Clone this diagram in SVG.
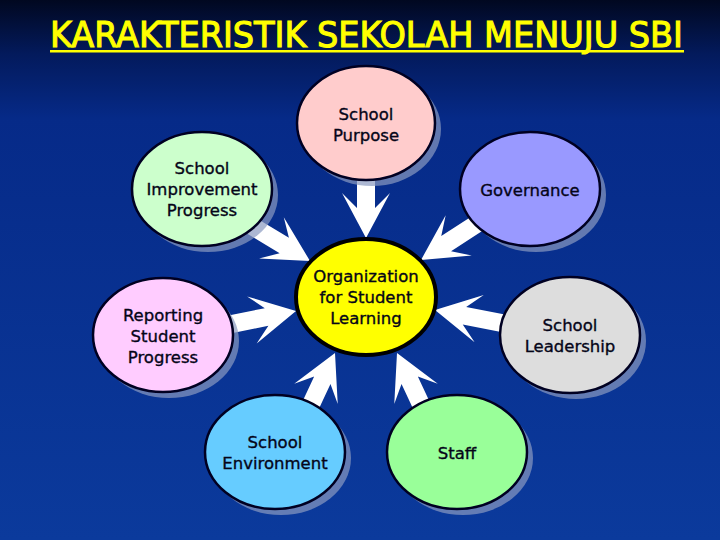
<svg xmlns="http://www.w3.org/2000/svg" width="720" height="540" viewBox="0 0 720 540">
  <defs>
    <linearGradient id="bg" x1="0" y1="0" x2="0" y2="1">
      <stop offset="0" stop-color="#010820"/>
      <stop offset="0.1" stop-color="#031a5c"/>
      <stop offset="0.22" stop-color="#062a88"/>
      <stop offset="1" stop-color="#0b3a9c"/>
    </linearGradient>
    <path id="arrow" d="M0,0 L-45,-24 L-30,-9 L-90,-9 L-90,9 L-30,9 L-45,24 Z"/>
  </defs>
  <style>
    .arr { fill: #ffffff; }
    .shadow { fill: #8a9ac0; opacity: 0.7; }
    .node { stroke: #000022; stroke-width: 2.5; }
    .center { stroke: #000000; stroke-width: 4; }
    .lbl { font-family: "DejaVu Sans", "Liberation Sans", sans-serif; font-size: 16.5px; fill: #050518; stroke: #050518; stroke-width: 0.35; text-anchor: middle; }
    .title { font-family: "DejaVu Sans Condensed", "DejaVu Sans", sans-serif; font-size: 35px; fill: #ffff00; stroke: #ffff00; stroke-width: 1; }
  </style>

  <rect x="0" y="0" width="720" height="540" fill="url(#bg)"/>

  <g id="title">
    <text class="title" x="50" y="47" textLength="633" lengthAdjust="spacingAndGlyphs">KARAKTERISTIK SEKOLAH MENUJU SBI</text>
    <rect x="50" y="50" width="634" height="2.5" fill="#ffff00"/>
  </g>

  <g id="connectors">
    <use href="#arrow" class="arr" transform="translate(366,238) rotate(90)"/>
    <use href="#arrow" class="arr" transform="translate(310,261) rotate(31)"/>
    <use href="#arrow" class="arr" transform="translate(421,260) rotate(147)"/>
    <use href="#arrow" class="arr" transform="translate(435,310) rotate(191)"/>
    <use href="#arrow" class="arr" transform="translate(296,311) rotate(-11.5)"/>
    <use href="#arrow" class="arr" transform="translate(335,353) rotate(-65)"/>
    <use href="#arrow" class="arr" transform="translate(397,353) rotate(-115)"/>
  </g>

  <g id="school-purpose">
    <ellipse class="shadow" cx="372" cy="129" rx="69" ry="57"/>
    <ellipse class="node" cx="366" cy="123" rx="69" ry="57" fill="#ffcccc"/>
    <text class="lbl" x="366" y="120">School</text>
    <text class="lbl" x="366" y="141">Purpose</text>
  </g>

  <g id="school-improvement">
    <ellipse class="shadow" cx="208" cy="195" rx="70" ry="57"/>
    <ellipse class="node" cx="202" cy="189" rx="70" ry="57" fill="#ccffcc"/>
    <text class="lbl" x="202" y="174">School</text>
    <text class="lbl" x="202" y="195">Improvement</text>
    <text class="lbl" x="202" y="216">Progress</text>
  </g>

  <g id="governance">
    <ellipse class="shadow" cx="536" cy="195" rx="70" ry="57"/>
    <ellipse class="node" cx="530" cy="189" rx="70" ry="57" fill="#9999ff"/>
    <text class="lbl" x="530" y="196">Governance</text>
  </g>

  <g id="reporting">
    <ellipse class="shadow" cx="169" cy="341" rx="70" ry="57"/>
    <ellipse class="node" cx="163" cy="335" rx="70" ry="57" fill="#ffccff"/>
    <text class="lbl" x="163" y="321">Reporting</text>
    <text class="lbl" x="163" y="342">Student</text>
    <text class="lbl" x="163" y="363">Progress</text>
  </g>

  <g id="school-leadership">
    <ellipse class="shadow" cx="576" cy="341" rx="70" ry="58"/>
    <ellipse class="node" cx="570" cy="335" rx="70" ry="58" fill="#dddddd"/>
    <text class="lbl" x="570" y="331">School</text>
    <text class="lbl" x="570" y="352">Leadership</text>
  </g>

  <g id="school-environment">
    <ellipse class="shadow" cx="281" cy="458" rx="70" ry="57"/>
    <ellipse class="node" cx="275" cy="452" rx="70" ry="57" fill="#66ccff"/>
    <text class="lbl" x="275" y="448">School</text>
    <text class="lbl" x="275" y="469">Environment</text>
  </g>

  <g id="staff">
    <ellipse class="shadow" cx="463" cy="458" rx="70" ry="57"/>
    <ellipse class="node" cx="457" cy="452" rx="70" ry="57" fill="#99ff99"/>
    <text class="lbl" x="457" y="459">Staff</text>
  </g>

  <g id="organization">
    <ellipse class="center" cx="366" cy="297" rx="70" ry="58" fill="#ffff00"/>
    <text class="lbl" x="366" y="282">Organization</text>
    <text class="lbl" x="366" y="303">for Student</text>
    <text class="lbl" x="366" y="324">Learning</text>
  </g>
</svg>
